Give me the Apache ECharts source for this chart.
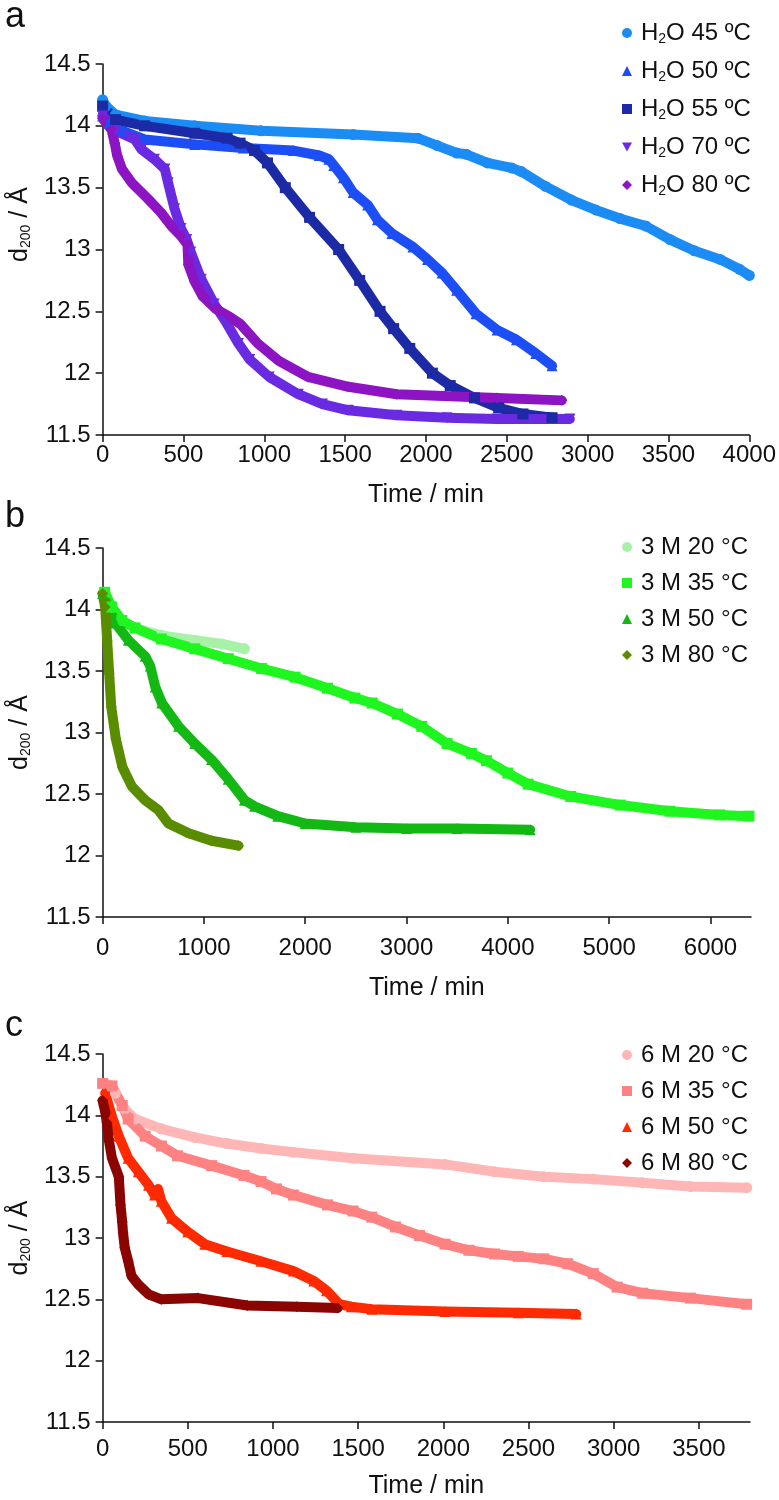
<!DOCTYPE html>
<html>
<head>
<meta charset="utf-8">
<script src="https://cdn.jsdelivr.net/npm/echarts@6/dist/echarts.min.js"></script>
<style>
  html, body { margin: 0; padding: 0; background: #fff; }
  #chart { width: 779px; height: 1500px; }
</style>
</head>
<body>
<div id="chart"></div>
<script>
'use strict';

// panel a : H2O
var namesA = ['H2O 45 ºC', 'H2O 50 ºC', 'H2O 55 ºC', 'H2O 70 ºC', 'H2O 80 ºC'];
var h2o45 = [[0,14.21],[20,14.16],[80,14.09],[260,14.04],[570,14.0],[980,13.96],[1550,13.93],[1950,13.90],[2070,13.84],[2190,13.78],[2250,13.77],[2380,13.70],[2530,13.66],[2590,13.63],[2740,13.51],[2900,13.40],[3050,13.32],[3200,13.25],[3360,13.19],[3510,13.08],[3660,12.99],[3820,12.92],[3940,12.84],[4000,12.79]];
var h2o50 = [[0,14.08],[40,14.02],[120,13.96],[260,13.89],[570,13.85],[870,13.82],[1180,13.80],[1340,13.76],[1400,13.73],[1430,13.68],[1490,13.58],[1550,13.46],[1640,13.36],[1700,13.24],[1790,13.13],[1920,13.02],[2010,12.92],[2100,12.81],[2190,12.67],[2310,12.48],[2440,12.35],[2560,12.27],[2680,12.16],[2780,12.06]];
var h2o55 = [[0,14.16],[80,14.05],[260,14.0],[570,13.94],[770,13.90],[850,13.86],[940,13.80],[1020,13.70],[1130,13.50],[1280,13.26],[1460,13.0],[1590,12.75],[1716,12.5],[1800,12.36],[1900,12.2],[2040,12.0],[2150,11.9],[2300,11.8],[2450,11.72],[2600,11.67],[2780,11.64]];
var h2o70 = [[0,14.08],[80,13.96],[200,13.89],[240,13.81],[320,13.73],[385,13.65],[405,13.54],[445,13.33],[485,13.17],[520,13.08],[545,12.98],[610,12.76],[690,12.56],[760,12.42],[840,12.24],[910,12.11],[1030,11.97],[1210,11.83],[1360,11.75],[1520,11.70],[1820,11.66],[2130,11.64],[2440,11.63],[2890,11.63]];
var h2o80 = [[0,14.06],[55,13.97],[75,13.86],[90,13.76],[120,13.65],[180,13.54],[280,13.41],[360,13.30],[425,13.19],[485,13.11],[525,13.04],[530,12.88],[570,12.74],[620,12.62],[700,12.52],[780,12.46],[850,12.40],[960,12.24],[1090,12.10],[1270,11.97],[1520,11.89],[1820,11.83],[2440,11.80],[2840,11.78]];

// panel b : 3 M
var namesB = ['3 M 20 °C', '3 M 35 °C', '3 M 50 °C', '3 M 80 °C'];
var m3t20 = [[20,14.14],[90,14.02],[190,13.91],[320,13.85],[580,13.79],[910,13.75],[1180,13.72],[1400,13.68]];
var m3t35 = [[20,14.14],[90,14.02],[190,13.91],[320,13.85],[580,13.76],[910,13.68],[1240,13.60],[1570,13.52],[1900,13.45],[2220,13.36],[2490,13.28],[2660,13.24],[2910,13.15],[3150,13.05],[3400,12.91],[3640,12.83],[3790,12.77],[4000,12.67],[4200,12.58],[4620,12.48],[5110,12.41],[5600,12.36],[6090,12.33],[6380,12.32]];
var m3t50 = [[0,14.13],[125,13.89],[255,13.75],[420,13.62],[470,13.54],[520,13.37],[585,13.24],[750,13.05],[910,12.91],[1075,12.78],[1240,12.62],[1400,12.45],[1500,12.40],[1730,12.32],[2000,12.26],[2500,12.23],[3000,12.22],[3500,12.22],[4220,12.21]];
var m3t80 = [[0,14.13],[25,14.02],[45,13.75],[65,13.48],[85,13.21],[130,12.95],[195,12.72],[290,12.56],[420,12.45],[550,12.37],[650,12.26],[850,12.18],[1075,12.12],[1340,12.08]];

// panel c : 6 M
var namesC = ['6 M 20 °C', '6 M 35 °C', '6 M 50 °C', '6 M 80 °C'];
var m6t20 = [[15,14.26],[75,14.18],[130,14.05],[190,13.97],[345,13.89],[540,13.82],[730,13.77],[930,13.73],[1120,13.70],[1470,13.65],[2010,13.60],[2300,13.54],[2590,13.50],[2880,13.48],[3170,13.45],[3450,13.42],[3780,13.41]];
var m6t35 = [[0,14.26],[55,14.24],[115,14.08],[150,13.97],[250,13.83],[345,13.75],[440,13.67],[640,13.59],[830,13.51],[930,13.46],[1020,13.40],[1120,13.35],[1320,13.27],[1470,13.22],[1580,13.17],[1720,13.09],[1860,13.02],[2010,12.95],[2150,12.90],[2300,12.87],[2440,12.85],[2590,12.83],[2730,12.79],[2880,12.71],[3020,12.60],[3170,12.55],[3450,12.51],[3780,12.46]];
var m6t50 = [[15,14.18],[55,13.99],[95,13.83],[150,13.65],[210,13.54],[270,13.43],[305,13.35],[325,13.40],[345,13.30],[405,13.16],[500,13.05],[600,12.95],[730,12.89],[930,12.81],[1120,12.73],[1240,12.65],[1315,12.57],[1390,12.46],[1460,12.44],[1580,12.42],[2010,12.40],[2440,12.39],[2780,12.38]];
var m6t80 = [[0,14.12],[15,14.03],[25,13.94],[35,13.81],[55,13.65],[95,13.50],[105,13.27],[115,13.13],[120,13.04],[130,12.92],[150,12.81],[170,12.69],[210,12.62],[270,12.54],[345,12.50],[560,12.51],[850,12.45],[1140,12.44],[1380,12.43]];

var colorsA = ['#1c8cf5', '#1d4ef5', '#1c2aa6', '#6a2ae2', '#8d14c2'];
var colorsB = ['#a8f2a8', '#1ff51f', '#14b814', '#5a8c00'];
var colorsC = ['#ffb6b6', '#ff8282', '#ff2a00', '#8b0500'];
var tri_down = 'path://M0,0 L10,0 L5,9 Z';
var symbolsA = ['circle', 'triangle', 'rect', tri_down, 'diamond'];
var symbolsB = ['circle', 'rect', 'triangle', 'diamond'];

var FONT = 'Liberation Sans, Arial, sans-serif';

function mkSeries(name, data, color, symbol, idx) {
    return {
        name: name,
        type: 'line',
        xAxisIndex: idx,
        yAxisIndex: idx,
        data: data,
        symbol: symbol,
        symbolSize: 11,
        showSymbol: true,
        lineStyle: { width: 10, color: color, cap: 'round', join: 'round' },
        itemStyle: { color: color },
        animation: false
    };
}

function mkX(idx, max, interval, labelMargin, nameGap) {
    return {
        type: 'value', gridIndex: idx, min: 0, max: max, interval: interval,
        name: 'Time / min', nameLocation: 'middle', nameGap: nameGap,
        nameTextStyle: { fontSize: 25, color: '#111', fontFamily: FONT },
        axisLine: { lineStyle: { color: '#111', width: 1.5 } },
        axisTick: { show: true, length: 7, lineStyle: { color: '#111', width: 1.5 } },
        axisLabel: {
            fontSize: 24, color: '#111', fontFamily: FONT, margin: labelMargin,
            showMaxLabel: max % interval === 0,
            formatter: function (v) { return String(v); }
        },
        splitLine: { show: false }
    };
}

function mkY(idx, pad) {
    return {
        type: 'value', gridIndex: idx, min: 11.5, max: 14.5, interval: 0.5,
        name: 'd{sub|200} / Å', nameLocation: 'middle', nameGap: 58,
        nameTextStyle: {
            fontSize: 25, color: '#111', fontFamily: FONT, padding: pad,
            rich: { sub: { fontSize: 14, color: '#111', fontFamily: FONT, verticalAlign: 'bottom', lineHeight: 12 } }
        },
        axisLine: { show: true, lineStyle: { color: '#111', width: 1.5 } },
        axisTick: { show: true, length: 7, lineStyle: { color: '#111', width: 1.5 } },
        axisLabel: { fontSize: 24, color: '#111', fontFamily: FONT, margin: 12 },
        splitLine: { show: false }
    };
}

function mkLegend(names, symbols, top, gap) {
    return {
        orient: 'vertical', left: 622, top: top, padding: 0,
        itemGap: gap, itemWidth: 10, itemHeight: 10,
        data: names.map(function (n, i) { return { name: n, icon: symbols[i] }; }),
        formatter: function (n) { return n.replace('H2O', 'H{sub|2}O'); },
        textStyle: {
            fontSize: 24, color: '#111', fontFamily: FONT, lineHeight: 26, padding: [0, 0, 0, 4],
            rich: { sub: { fontSize: 14, color: '#111', fontFamily: FONT, verticalAlign: 'bottom', lineHeight: 10 } }
        }
    };
}

var seriesA = [h2o45, h2o50, h2o55, h2o70, h2o80];
var seriesB = [m3t20, m3t35, m3t50, m3t80];
var seriesC = [m6t20, m6t35, m6t50, m6t80];

var series = [];
seriesA.forEach(function (d, i) { series.push(mkSeries(namesA[i], d, colorsA[i], symbolsA[i], 0)); });
seriesB.forEach(function (d, i) { series.push(mkSeries(namesB[i], d, colorsB[i], symbolsB[i], 1)); });
seriesC.forEach(function (d, i) { series.push(mkSeries(namesC[i], d, colorsC[i], symbolsB[i], 2)); });

var chart = echarts.init(document.getElementById('chart'), null, { renderer: 'canvas' });
chart.setOption({
    backgroundColor: '#fff',
    animation: false,
    title: [
        { text: 'a', left: 0, top: -6, textStyle: { fontSize: 36, fontWeight: 'normal', color: '#111', fontFamily: FONT } },
        { text: 'b', left: 0, top: 494, textStyle: { fontSize: 36, fontWeight: 'normal', color: '#111', fontFamily: FONT } },
        { text: 'c', left: 0, top: 1003, textStyle: { fontSize: 36, fontWeight: 'normal', color: '#111', fontFamily: FONT } }
    ],
    grid: [
        { left: 102, top: 64, width: 651, height: 371 },
        { left: 102, top: 548, width: 649, height: 369 },
        { left: 102, top: 1054, width: 648, height: 372 }
    ],
    xAxis: [mkX(0, 4000, 500, 8, 48), mkX(1, 6400, 1000, 19, 59), mkX(2, 3800, 500, 15, 52)],
    yAxis: [mkY(0, [0, 0, 0, 50]), mkY(1, [0, 0, 0, 0]), mkY(2, [0, 0, 0, 0])],
    legend: [
        mkLegend(namesA, symbolsA, 20, 12),
        mkLegend(namesB, symbolsB, 534, 10),
        mkLegend(namesC, symbolsB, 1042, 10)
    ],
    series: series
});
</script>
</body>
</html>
